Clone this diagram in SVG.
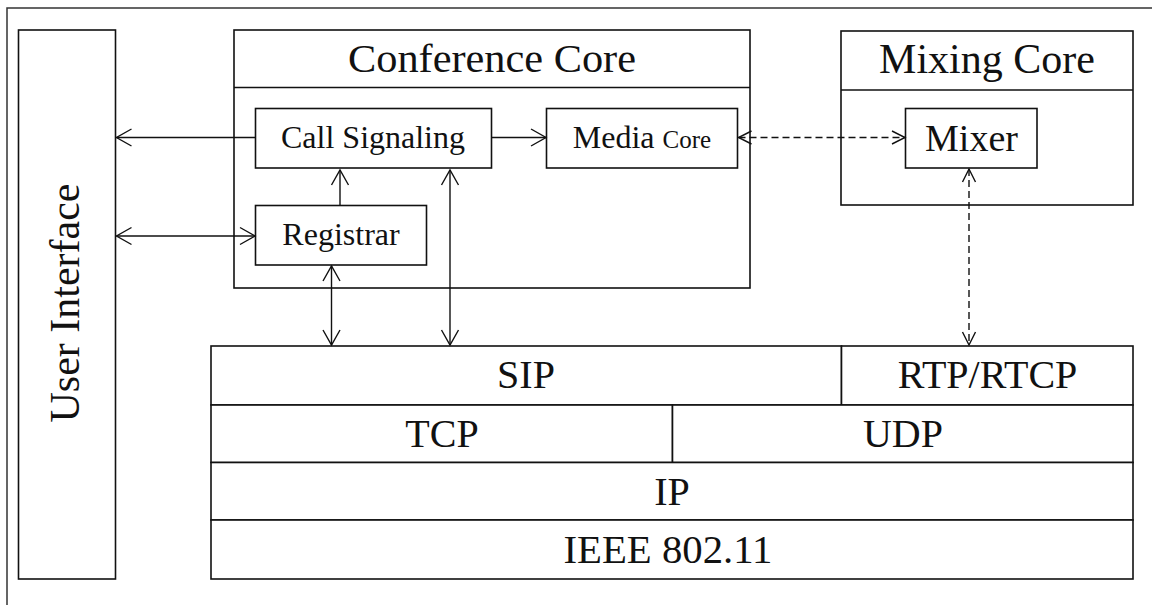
<svg xmlns="http://www.w3.org/2000/svg" width="1152" height="605" viewBox="0 0 1152 605">
<style>
.box{fill:#fff;stroke:#111;stroke-width:1.6}
.ln{fill:none;stroke:#111;stroke-width:1.6}
.t{font-family:"Liberation Serif","Times New Roman",serif;fill:#111;text-anchor:middle}
.c{fill:none;stroke:#111;stroke-width:1.4}
.d{stroke-dasharray:7,4}
</style>
<defs>
<marker id="a" viewBox="-17 -10 19 20" refX="0" refY="0" markerWidth="19" markerHeight="20" markerUnits="userSpaceOnUse" orient="auto-start-reverse">
<path d="M-15,-8.5 L0,0 L-15,8.5" fill="none" stroke="#111" stroke-width="1.4"/>
</marker>
<marker id="s" viewBox="-15 -8 17 16" refX="0" refY="0" markerWidth="17" markerHeight="16" markerUnits="userSpaceOnUse" orient="auto-start-reverse">
<path d="M-13,-6.5 L0,0 L-13,6.5" fill="none" stroke="#111" stroke-width="1.4"/>
</marker>
</defs>
<rect width="1152" height="605" fill="#fff"/>
<path d="M7,605 V8 H1152" fill="none" stroke="#333" stroke-width="1.5"/>

<g id="user-interface">
<rect class="box" x="18.5" y="30" width="97" height="549"/>
<text class="t" font-size="42" transform="translate(79,303) rotate(-90)">User Interface</text>
</g>

<g id="conference-core">
<rect class="box" x="234" y="30" width="516" height="258"/>
<line class="ln" x1="234" y1="87.5" x2="750" y2="87.5"/>
<text class="t" x="492" y="72" font-size="40" textLength="288" lengthAdjust="spacingAndGlyphs">Conference Core</text>
</g>

<g id="call-signaling">
<rect class="box" x="255.5" y="108.5" width="236" height="59.5"/>
<text class="t" x="373" y="148" font-size="32">Call Signaling</text>
</g>

<g id="registrar">
<rect class="box" x="255.5" y="205.5" width="171" height="59.5"/>
<text class="t" x="341" y="245" font-size="32">Registrar</text>
</g>

<g id="media-core">
<rect class="box" x="546.5" y="108.5" width="191" height="59.5"/>
<text class="t" x="642" y="148" font-size="32">Media <tspan font-size="25">Core</tspan></text>
</g>

<g id="mixing-core">
<rect class="box" x="841" y="31" width="292" height="174"/>
<line class="ln" x1="841" y1="90" x2="1133" y2="90"/>
<text class="t" x="987" y="73" font-size="42">Mixing Core</text>
</g>

<g id="mixer">
<rect class="box" x="905.5" y="108.5" width="131.5" height="59.5"/>
<text class="t" x="971.5" y="151" font-size="38">Mixer</text>
</g>

<g id="sip">
<rect class="box" x="211" y="346" width="630.5" height="59"/>
<text class="t" x="526" y="388" font-size="40">SIP</text>
</g>
<g id="rtp-rtcp">
<rect class="box" x="841.5" y="346" width="291.5" height="59"/>
<text class="t" x="987.5" y="388" font-size="40">RTP/RTCP</text>
</g>
<g id="tcp">
<rect class="box" x="211" y="405" width="461.5" height="57.5"/>
<text class="t" x="442" y="447" font-size="40">TCP</text>
</g>
<g id="udp">
<rect class="box" x="672.5" y="405" width="460.5" height="57.5"/>
<text class="t" x="903" y="447" font-size="40">UDP</text>
</g>
<g id="ip">
<rect class="box" x="211" y="462.5" width="922" height="57.5"/>
<text class="t" x="672" y="505" font-size="40">IP</text>
</g>
<g id="ieee">
<rect class="box" x="211" y="520" width="922" height="59"/>
<text class="t" x="668" y="563" font-size="40" textLength="209" lengthAdjust="spacingAndGlyphs">IEEE 802.11</text>
</g>

<g id="connectors">
<path class="c" d="M255.5,137.5 H116.5" marker-end="url(#a)"/>
<path class="c" d="M116.5,236 H255" marker-start="url(#a)" marker-end="url(#a)"/>
<path class="c" d="M340,205.5 V170" marker-end="url(#a)"/>
<path class="c" d="M491.5,137.5 H546" marker-end="url(#a)"/>
<path class="c" d="M331.5,266 V345" marker-start="url(#a)" marker-end="url(#a)"/>
<path class="c" d="M450,170 V345" marker-start="url(#a)" marker-end="url(#a)"/>
<path class="c d" d="M738.5,137.5 H905" marker-start="url(#s)" marker-end="url(#s)"/>
<path class="c d" d="M969,169 V345" marker-start="url(#s)" marker-end="url(#s)"/>
</g>
</svg>
